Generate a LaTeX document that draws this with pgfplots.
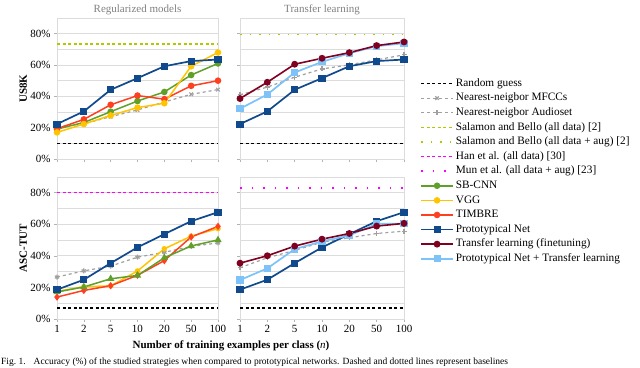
\documentclass[border=0pt]{standalone}
\usepackage{fontspec}
\setmainfont{Liberation Serif}
\usepackage{pgfplots}
\pgfplotsset{compat=1.18}
\definecolor{cpn}{RGB}{16,74,140}
\definecolor{csb}{RGB}{96,160,40}
\definecolor{cvgg}{RGB}{255,196,0}
\definecolor{ctim}{RGB}{255,64,32}
\definecolor{ctl}{RGB}{128,0,32}
\definecolor{cpntl}{RGB}{125,195,250}
\definecolor{csal}{RGB}{170,205,0}
\definecolor{chan}{RGB}{255,0,255}
\definecolor{cnn}{RGB}{160,160,160}
\definecolor{gridc}{RGB}{220,220,220}
\newcommand{\fs}{\fontsize{11bp}{13bp}\selectfont}
\pgfplotsset{
  panel/.style={scale only axis, xmin=0, xmax=6, ymin=0, ymax=90,
    xtick={0,...,6}, ytick={0,20,...,80}, minor ytick={10,30,...,90},
    ymajorgrids, yminorgrids,
    grid style={draw=gridc, line width=0.8bp},
    minor grid style={draw=gridc, line width=0.8bp},
    axis line style={draw=gridc, line width=0.8bp},
    tick align=outside, xtick pos=lower, ytick pos=left,
    major tick length=3bp, minor tick length=0pt,
    tick style={draw=gray!60, line width=0.6bp},
    yticklabels={0\%,20\%,40\%,60\%,80\%},
    tick label style={font=\fs},
    /pgf/number format/assume math mode=true,
    title style={font=\fs, text=gray, yshift=-6bp},
    ylabel style={font=\fs\bfseries, at={(axis description cs:-0.21,0.5)}, anchor=center},
    legend image code/.code={\draw[mark repeat=2, mark phase=2, ##1] plot coordinates {(0bp,0bp) (16bp,0bp) (32bp,0bp)};},
  },
  rgS/.style={black, line width=1.6bp, dash pattern=on 3bp off 2.5bp, no marks},
  mfccS/.style={cnn, line width=1.2bp, dash pattern=on 3bp off 3bp, mark=x, mark size=2.5bp, mark options={solid}},
  audS/.style={cnn, line width=1.2bp, dash pattern=on 3bp off 3bp, mark=+, mark size=2.5bp, mark options={solid}},
  salS/.style={csal, line width=1.6bp, dash pattern=on 3bp off 2.5bp, no marks},
  salaugS/.style={csal, line width=1.6bp, dash pattern=on 1.5bp off 8bp, no marks},
  hanS/.style={chan, line width=1.4bp, dash pattern=on 3bp off 2.5bp, no marks},
  munS/.style={chan, line width=1.4bp, dash pattern=on 1.5bp off 10bp, no marks},
  sbS/.style={csb, line width=1.5bp, mark=*, mark size=2.5bp, mark options={solid}},
  vggS/.style={cvgg, line width=1.5bp, mark=*, mark size=2.5bp, mark options={solid}},
  timS/.style={ctim, line width=1.5bp, mark=*, mark size=2.5bp, mark options={solid}},
  pnS/.style={cpn, line width=1.7bp, mark=square*, mark size=2.7bp, mark options={solid}},
  tlS/.style={ctl, line width=1.6bp, mark=*, mark size=2.6bp, mark options={solid}},
  pntlS/.style={cpntl, line width=1.7bp, mark=square*, mark size=2.7bp, mark options={solid}},
}
\begin{document}
\begin{tikzpicture}
\useasboundingbox (0,0) rectangle (640bp,-368bp);
% ---------------- top left
\begin{axis}[panel, at={(57bp,-159bp)}, anchor=south west, width=161bp, height=141bp,
  xticklabels={}, title={Regularized models}, ylabel={US8K}]
\addplot[rgS] coordinates {(0,10) (6,10)};
\addplot[salS] coordinates {(0,73.3) (6,73.3)};
\addplot[mfccS] coordinates {(0,20.5) (1,22.5) (2,27) (3,31.3) (4,36.4) (5,41.3) (6,44.3)};
\addplot[sbS] coordinates {(0,19.1) (1,23.3) (2,30.2) (3,37) (4,42.8) (5,53.6) (6,61)};
\addplot[timS] coordinates {(0,19.3) (1,25.3) (2,34.6) (3,40.5) (4,38.2) (5,46.7) (6,50)};
\addplot[vggS] coordinates {(0,17) (1,22.3) (2,27.8) (3,32.8) (4,35.6) (5,59.2) (6,68)};
\addplot[pnS] coordinates {(0,22.3) (1,30.4) (2,44.2) (3,51.6) (4,59.2) (5,62.5) (6,63.5)};
\end{axis}
% ---------------- top right (with legend)
\begin{axis}[panel, at={(240bp,-159bp)}, anchor=south west, width=164bp, height=141bp,
  xticklabels={}, yticklabels={}, title={Transfer learning},
  legend style={at={(1.0976,0.588)}, anchor=north west, draw=none, fill=none,
    inner xsep=0pt, inner ysep=0pt, font=\fontsize{11.3bp}{13bp}\selectfont, cells={anchor=west},
    nodes={inner sep=2bp, text height=8bp, text depth=2.5bp}, row sep=0.1bp}]
\addlegendimage{rgS}\addlegendentry{Random guess}
\addlegendimage{mfccS}\addlegendentry{Nearest-neigbor MFCCs}
\addlegendimage{audS}\addlegendentry{Nearest-neigbor Audioset}
\addlegendimage{salS}\addlegendentry{Salamon and Bello (all data) [2]}
\addlegendimage{salaugS}\addlegendentry{Salamon and Bello (all data + aug) [2]}
\addlegendimage{hanS}\addlegendentry{Han et al. (all data) [30]}
\addlegendimage{munS}\addlegendentry{Mun et al. (all data + aug) [23]}
\addlegendimage{sbS}\addlegendentry{SB-CNN}
\addlegendimage{vggS}\addlegendentry{VGG}
\addlegendimage{timS}\addlegendentry{TIMBRE}
\addlegendimage{pnS}\addlegendentry{Prototypical Net}
\addlegendimage{tlS}\addlegendentry{Transfer learning (finetuning)}
\addlegendimage{pntlS}\addlegendentry{Prototypical Net + Transfer learning}
\addplot[rgS, forget plot] coordinates {(0,10) (6,10)};
\addplot[salaugS, forget plot] coordinates {(0,79.5) (6,79.5)};
\addplot[audS, forget plot] coordinates {(0,41) (1,45.9) (2,52.2) (3,57.5) (4,60.1) (5,63.3) (6,66.5)};
\addplot[pnS, forget plot] coordinates {(0,22.3) (1,30.4) (2,44.2) (3,51.6) (4,59.2) (5,62.5) (6,63.5)};
\addplot[pntlS, forget plot] coordinates {(0,32.1) (1,41.2) (2,55.2) (3,62) (4,67.5) (5,72) (6,73.9)};
\addplot[tlS, forget plot] coordinates {(0,38.6) (1,49) (2,60.5) (3,64.3) (4,67.9) (5,72.4) (6,74.7)};
\end{axis}
% ---------------- bottom left
\begin{axis}[panel, at={(57bp,-319bp)}, anchor=south west, width=161bp, height=142bp,
  xticklabels={1,2,5,10,20,50,100}, ylabel={ASC-TUT}]
\addplot[rgS] coordinates {(0,7) (6,7)};
\addplot[hanS] coordinates {(0,80) (6,80)};
\addplot[mfccS, mark=asterisk] coordinates {(0,26.6) (1,30.5) (2,33.5) (3,39.2) (4,42.3) (5,46) (6,48.2)};
\addplot[vggS, mark size=2bp] coordinates {(0,17.5) (1,20.5) (2,21) (3,30.4) (4,44.5) (5,52.5) (6,57.3)};
\addplot[timS, mark=diamond*, mark size=2.5bp] coordinates {(0,13.9) (1,18.1) (2,21.1) (3,27.7) (4,37) (5,52) (6,58.7)};
\addplot[sbS, mark=triangle*, mark size=2.8bp] coordinates {(0,17.1) (1,20.3) (2,25.5) (3,27.6) (4,38.8) (5,46.3) (6,50.1)};
\addplot[pnS] coordinates {(0,18.6) (1,24.9) (2,35.4) (3,45.4) (4,53.8) (5,62) (6,67.7)};
\end{axis}
% ---------------- bottom right
\begin{axis}[panel, at={(240bp,-319bp)}, anchor=south west, width=164bp, height=142bp,
  xticklabels={1,2,5,10,20,50,100}, yticklabels={}]
\addplot[rgS] coordinates {(0,7) (6,7)};
\addplot[munS] coordinates {(0,83) (6,83)};
\addplot[audS] coordinates {(0,32.5) (1,38.8) (2,43.5) (3,48.7) (4,51.5) (5,54.2) (6,55.7)};
\addplot[pnS] coordinates {(0,18.6) (1,24.9) (2,35.4) (3,45.4) (4,53.8) (5,62) (6,67.7)};
\addplot[pntlS] coordinates {(0,24.7) (1,32.1) (2,44.3) (3,49.2) (4,53) (5,60.3) (6,60.5)};
\addplot[tlS] coordinates {(0,35.4) (1,40.1) (2,46.2) (3,50.6) (4,54.2) (5,58.9) (6,60.6)};
\end{axis}
\node[font=\fs\bfseries] at (231bp,-346bp) {Number of training examples per class (\textit{\mdseries n})};
\node[font=\fontsize{9.5bp}{11bp}\selectfont, anchor=base west, inner sep=0pt] at (1bp,-364.5bp) {Fig.~1.\hspace{8bp}Accuracy (\%) of the studied strategies when compared to prototypical networks. Dashed and dotted lines represent baselines};
\end{tikzpicture}
\end{document}
